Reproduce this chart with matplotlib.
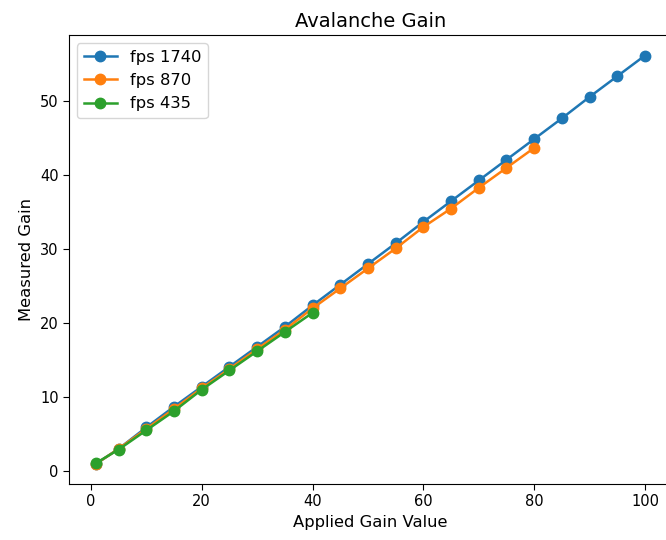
import matplotlib
matplotlib.use("Agg")
import matplotlib.pyplot as plt

x_1740 = [1, 5, 10, 15, 20, 25, 30, 35, 40, 45, 50, 55, 60, 65, 70, 75, 80, 85, 90, 95, 100]
y_1740 = [1.0, 3.0, 5.9, 8.7, 11.4, 14.1, 16.8, 19.5, 22.4, 25.2, 28.0, 30.8, 33.7, 36.5, 39.3, 42.1, 44.9, 47.7, 50.6, 53.4, 56.2]
x_870 = [1, 5, 10, 15, 20, 25, 30, 35, 40, 45, 50, 55, 60, 65, 70, 75, 80]
y_870 = [1.0, 3.0, 5.7, 8.4, 11.2, 13.8, 16.5, 19.1, 22.0, 24.7, 27.4, 30.1, 33.0, 35.5, 38.3, 41.0, 43.7]
x_435 = [1, 5, 10, 15, 20, 25, 30, 35, 40]
y_435 = [1.1, 2.9, 5.5, 8.1, 11.0, 13.6, 16.2, 18.8, 21.4]

fig, ax = plt.subplots(figsize=(6.66, 5.4), dpi=100)
fig.subplots_adjust(left=0.1036, right=1.0096, top=0.935, bottom=0.1037)
ax.plot(x_1740, y_1740, marker="o", ms=7.5, lw=1.8, label="fps 1740")
ax.plot(x_870, y_870, marker="o", ms=7.5, lw=1.8, label="fps 870")
ax.plot(x_435, y_435, marker="o", ms=7.5, lw=1.8, label="fps 435")
ax.set_title("Avalanche Gain", fontsize=14)
ax.set_xlabel("Applied Gain Value", fontsize=11.8)
ax.set_ylabel("Measured Gain", fontsize=11.8)
ax.tick_params(labelsize=10.5, length=4)
ax.legend(loc="upper left", fontsize=11.8)
fig.savefig("out.png", dpi=100)
